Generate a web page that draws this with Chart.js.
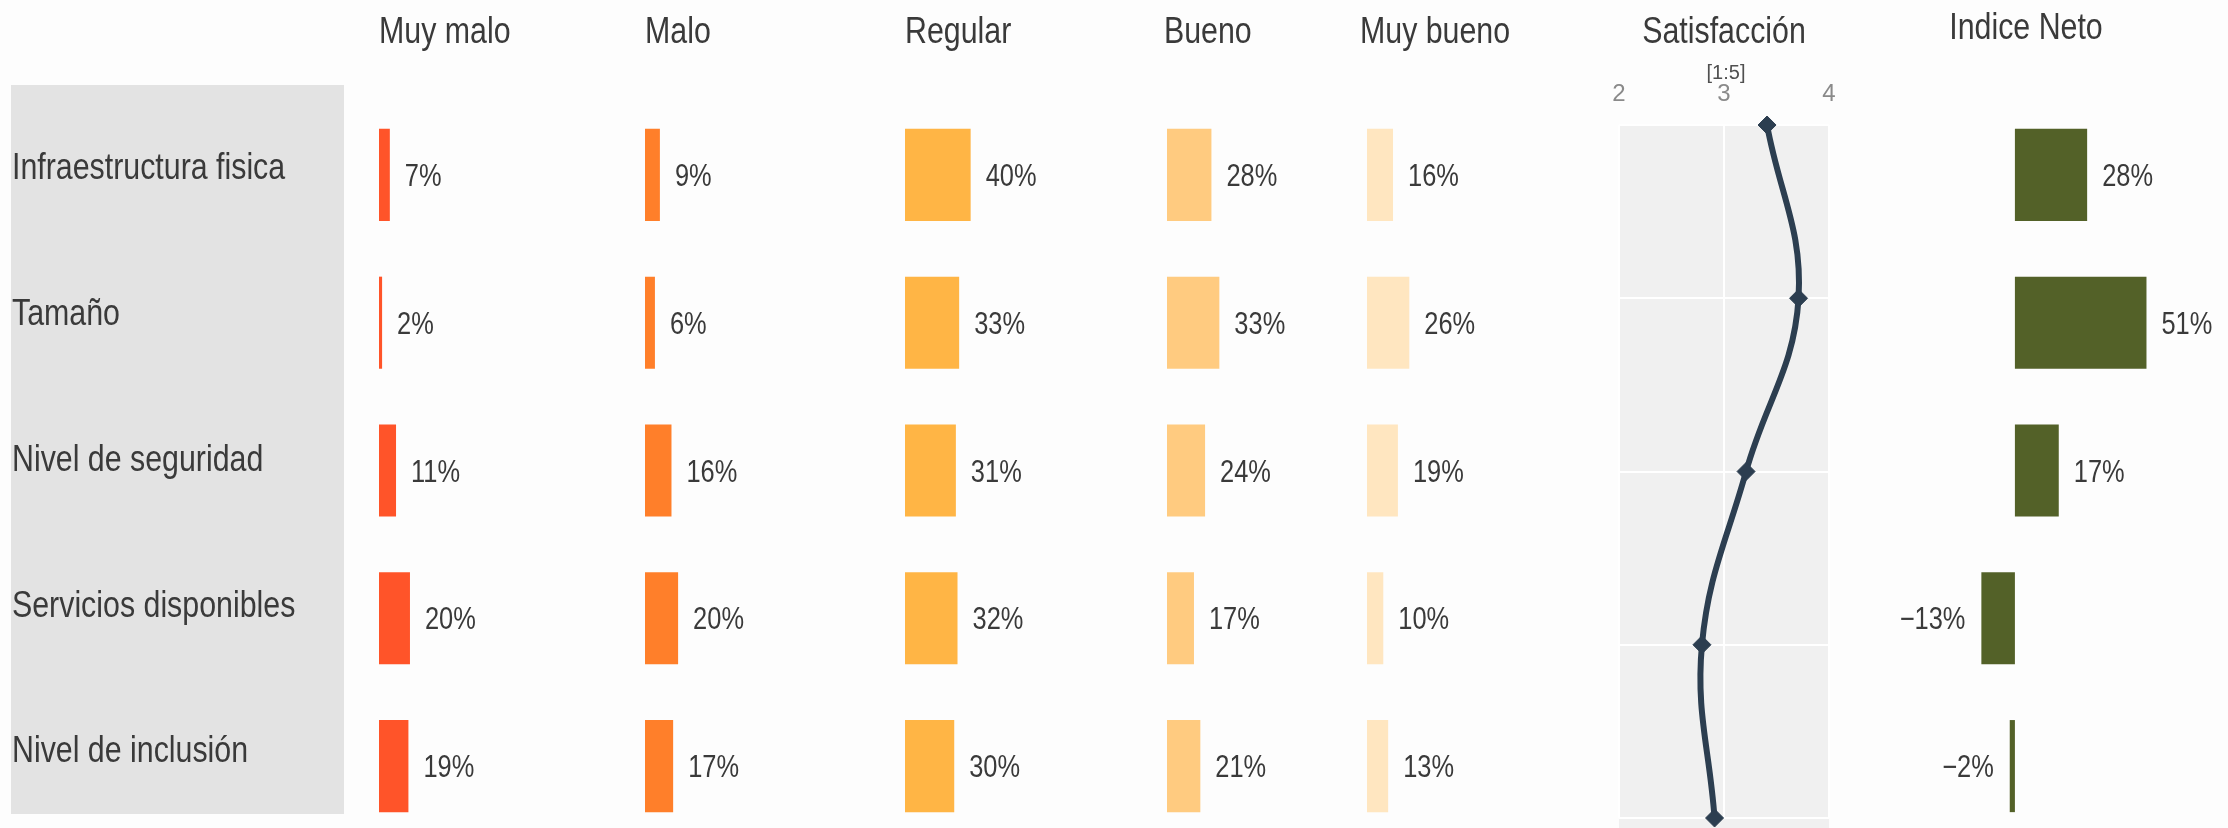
<!DOCTYPE html>
<html>
<head>
<meta charset="utf-8">
<script src="https://cdn.jsdelivr.net/npm/chart.js@4.4.1/dist/chart.umd.min.js"></script>
<style>
  html, body { margin: 0; padding: 0; background: #fdfdfd; }
  #wrap { position: relative; width: 2228px; height: 828px; overflow: hidden; background: #fdfdfd; }
  #wrap canvas { position: absolute; }
  #rowsCanvas { background: #e3e3e3; }
</style>
</head>
<body>
<div id="wrap">
  <canvas id="rowsCanvas"></canvas>
  <canvas id="muyMaloCanvas"></canvas>
  <canvas id="maloCanvas"></canvas>
  <canvas id="regularCanvas"></canvas>
  <canvas id="buenoCanvas"></canvas>
  <canvas id="muyBuenoCanvas"></canvas>
  <canvas id="satCanvas"></canvas>
  <canvas id="netoCanvas"></canvas>
</div>
<script>
// Data
const rowLabels = ['Infraestructura fisica', 'Tamaño', 'Nivel de seguridad', 'Servicios disponibles', 'Nivel de inclusión'];
const muyMalo = [7, 2, 11, 20, 19];
const malo = [9, 6, 16, 20, 17];
const regular = [40, 33, 31, 32, 30];
const bueno = [28, 33, 24, 17, 21];
const muyBueno = [16, 26, 19, 10, 13];
const satisfaccion = [3.41, 3.71, 3.21, 2.79, 2.91];
const indiceNeto = [28, 51, 17, -13, -2];
const satTicks = [2, 3, 4];

// no narrow face installed, so squeeze Liberation Sans instead
const BASE_FONT = '"Liberation Sans", Arial, sans-serif';
const SQUEEZE = 0.82;
const TEXT = '#3a3a3a';
const PAD = 10; // room left of each bar panel for its heading

Chart.defaults.font.family = BASE_FONT;
Chart.defaults.color = TEXT;
Chart.defaults.animation = false;
Chart.defaults.plugins.legend.display = false;
Chart.defaults.plugins.tooltip.enabled = false;

// size + place a canvas
function place(id, left, top, w, h) {
    const c = document.getElementById(id);
    c.width = w; c.height = h;
    c.style.left = left + 'px';
    c.style.top = top + 'px';
    c.style.width = w + 'px';
    c.style.height = h + 'px';
    return c;
}

// condensed text, yMid = middle of the capitals
function narrowText(ctx, text, x, yMid, size, align, color, squeeze = SQUEEZE) {
    ctx.save();
    ctx.font = size + 'px ' + BASE_FONT;
    ctx.fillStyle = color;
    ctx.textAlign = align;
    ctx.textBaseline = 'alphabetic';
    ctx.translate(x, yMid + size * 0.358);
    ctx.scale(squeeze, 1);
    ctx.fillText(text, 0, 0);
    ctx.restore();
}

function pct(v) {
    return (v < 0 ? '\u2212' + Math.abs(v) : v) + '%';
}

// "xx%" next to each bar
const valueLabels = {
    id: 'valueLabels',
    afterDatasetsDraw(chart) {
        const values = chart.data.datasets[0].data;
        chart.getDatasetMeta(0).data.forEach((bar, i) => {
            const v = values[i];
            if (v >= 0) narrowText(chart.ctx, pct(v), bar.x + 15, bar.y, 31, 'left', TEXT);
            else narrowText(chart.ctx, pct(v), bar.x - 16, bar.y, 31, 'right', TEXT);
        });
    }
};

// panel heading (and optional sub heading)
const panelTitle = {
    id: 'panelTitle',
    afterDraw(chart, args, opts) {
        if (!opts.text) return;
        const a = chart.chartArea;
        const centered = opts.align === 'center';
        const x = (centered ? (a.left + a.right) / 2 : a.left) + (opts.dx || 0);
        narrowText(chart.ctx, opts.text, x, opts.y, 37, centered ? 'center' : 'left', TEXT);
        if (opts.sub) narrowText(chart.ctx, opts.sub, x + 2, opts.subY, 20, 'center', '#505050', 1);
    }
};

// grey panel behind the satisfaction line
const panelBg = {
    id: 'panelBg',
    beforeDraw(chart) {
        const a = chart.chartArea;
        chart.ctx.save();
        chart.ctx.fillStyle = '#f0f0f0';
        chart.ctx.fillRect(a.left, a.top, a.right - a.left, chart.height - a.top);
        chart.ctx.restore();
    }
};

// category names on the grey band
const rowNames = {
    id: 'rowNames',
    afterDraw(chart) {
        const y = chart.scales.y;
        chart.data.labels.forEach((name, i) => {
            narrowText(chart.ctx, name, 1, y.getPixelForValue(i) + 8, 37, 'left', TEXT);
        });
    }
};

// barLeft = where zero sits on the page
function barPanel(id, barLeft, width, values, color, title, min, max, titleY, titleDx) {
    const canvas = place(id, barLeft - PAD, 0, width + PAD, 840);
    return new Chart(canvas, {
        type: 'bar',
        data: {
            labels: rowLabels,
            datasets: [{
                data: values,
                backgroundColor: color,
                borderWidth: 0,
                categoryPercentage: 1,
                barPercentage: 0.623
            }]
        },
        options: {
            responsive: false,
            devicePixelRatio: 1,
            indexAxis: 'y',
            layout: { padding: { top: 101, left: PAD } },
            scales: {
                x: { display: false, min: min, max: max },
                y: { display: false }
            },
            plugins: {
                panelTitle: { text: title, align: min < 0 ? 'center' : 'start', y: titleY, dx: titleDx }
            }
        },
        plugins: [valueLabels, panelTitle]
    });
}

new Chart(place('rowsCanvas', 11, 85, 333, 729), {
    type: 'bar',
    data: { labels: rowLabels, datasets: [{ data: [] }] },
    options: {
        responsive: false,
        devicePixelRatio: 1,
        indexAxis: 'y',
        layout: { padding: 0 },
        scales: {
            x: { display: false },
            y: { display: false }
        }
    },
    plugins: [rowNames]
});

barPanel('muyMaloCanvas', 379, 192, muyMalo, '#ff5429', 'Muy malo', 0, 124, 30, 0);
barPanel('maloCanvas', 645, 192, malo, '#ff7f2a', 'Malo', 0, 116, 30, 0);
barPanel('regularCanvas', 905, 192, regular, '#ffb545', 'Regular', 0, 117, 30, 0);
barPanel('buenoCanvas', 1167, 192, bueno, '#ffcb80', 'Bueno', 0, 121, 30, -3);
barPanel('muyBuenoCanvas', 1367, 192, muyBueno, '#ffe6c0', 'Muy bueno', 0, 118, 30, -7);
barPanel('netoCanvas', 1824, 404, indiceNeto, '#536128', 'Indice Neto', -74, 82.6, 26, 0);

// Satisfaction line, rows top to bottom
new Chart(place('satCanvas', 1560, 0, 300, 828), {
    type: 'scatter',
    data: {
        datasets: [{
            data: satisfaccion.map((v, i) => ({ x: v, y: i })),
            showLine: true,
            tension: 0.4,
            borderColor: '#2c3e50',
            borderWidth: 6,
            pointStyle: 'rectRot',
            pointRadius: 9,
            pointBackgroundColor: '#2c3e50',
            pointBorderColor: '#2c3e50',
            pointBorderWidth: 1,
            clip: false
        }]
    },
    options: {
        responsive: false,
        devicePixelRatio: 1,
        layout: { padding: { top: 63, left: 59, right: 31, bottom: 3 } },
        scales: {
            x: {
                position: 'top',
                min: satTicks[0],
                max: satTicks[satTicks.length - 1],
                afterBuildTicks: axis => { axis.ticks = satTicks.map(v => ({ value: v })); },
                grid: { color: '#ffffff', lineWidth: 2, drawTicks: false },
                border: { display: false },
                ticks: {
                    padding: 19,
                    color: '#8a8a8a',
                    font: { size: 24, lineHeight: 1 }
                }
            },
            y: {
                min: 0,
                max: rowLabels.length - 1,
                reverse: true,
                afterBuildTicks: axis => { axis.ticks = rowLabels.map((_, i) => ({ value: i })); },
                grid: { color: '#ffffff', lineWidth: 2, drawTicks: false },
                border: { display: false },
                ticks: { display: false }
            }
        },
        plugins: {
            panelTitle: { text: 'Satisfacción', align: 'center', y: 30, sub: '[1:5]', subY: 72 }
        }
    },
    plugins: [panelBg, panelTitle]
});
</script>
</body>
</html>
